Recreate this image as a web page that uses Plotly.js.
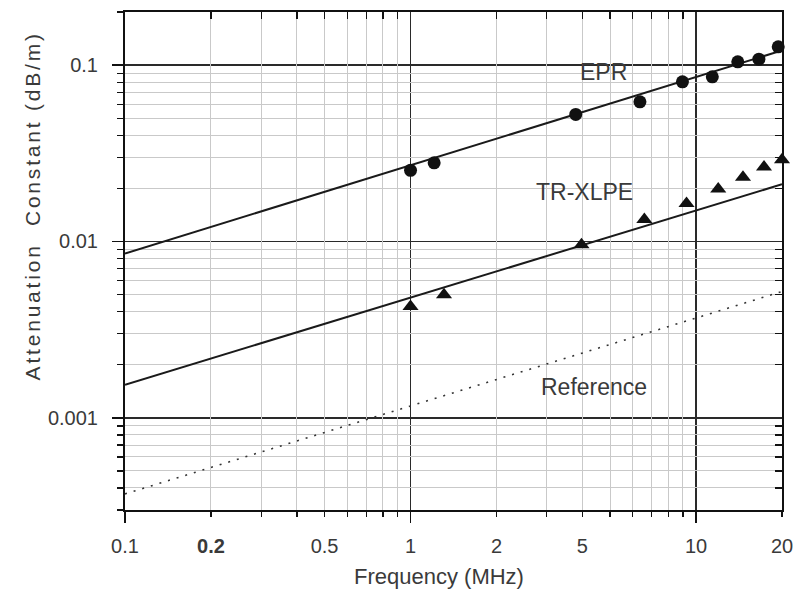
<!DOCTYPE html>
<html>
<head>
<meta charset="utf-8">
<script src="https://cdn.plot.ly/plotly-3.0.1.min.js"></script>
<style>
html,body{margin:0;padding:0;background:#fff;}
#chart{width:800px;height:594px;}
g.annotation[data-index="3"] text{letter-spacing:2.8px;}
</style>
</head>
<body>
<div id="chart"></div>
<script>
// ---- data ----
const eprFreq   = [1.0, 1.21, 3.79, 6.36, 8.96, 11.4, 14.0, 16.6, 19.4];
const eprAtten  = [0.0253, 0.0279, 0.0525, 0.0619, 0.0804, 0.0858, 0.1044, 0.108, 0.127];
const xlpeFreq  = [1.0, 1.31, 3.97, 6.59, 9.26, 11.96, 14.6, 17.3, 20.0];
const xlpeAtten = [0.00427, 0.00498, 0.00958, 0.0133, 0.0164, 0.0198, 0.0231, 0.0264, 0.0291];
const fitFreq   = [0.1, 20];
const eprFit    = [0.00855, 0.121];
const xlpeFit   = [0.00154, 0.0211];
const refFit    = [0.00037, 0.0052];

const xMajor = [0.1, 1, 10];
const xMinor = [0.2,0.3,0.4,0.5,0.6,0.7,0.8,0.9,2,3,4,5,6,7,8,9,20];
const xLabelVals = [0.1, 0.2, 0.5, 1, 2, 4, 10, 20];
const xLabelText = ['0.1', '<b>0.2</b>', '0.5', '1', '2', '5', '10', '20'];
const yMajor = [0.001, 0.01, 0.1];
const yMajorText = ['0.001', '0.01', '0.1'];
const yMinor = [0.0003,0.0004,0.0005,0.0006,0.0007,0.0008,0.0009,
                0.002,0.003,0.004,0.005,0.006,0.007,0.008,0.009,
                0.02,0.03,0.04,0.05,0.06,0.07,0.08,0.09,0.2];
const seriesLabels = ['EPR', 'TR-XLPE', 'Reference'];
const labelFreq    = [4.74, 4.07, 4.38];
const labelAtten   = [0.0913, 0.019, 0.0015];
const xTitle = 'Frequency (MHz)';
const yTitle = 'Attenuation\u00a0 Constant (dB/m)';

const FONT = 'Liberation Sans, Arial, Helvetica, sans-serif';
const TXT = '#3a3a3a';
const INK = '#111';
const xr = [-1, Math.log10(20)];
const yr = [Math.log10(0.0003), Math.log10(0.2)];

const traces = [
  {x: fitFreq, y: eprFit, mode: 'lines', line: {color: '#1a1a1a', width: 2}},
  {x: fitFreq, y: xlpeFit, mode: 'lines', line: {color: '#1a1a1a', width: 2}},
  {x: fitFreq, y: refFit, mode: 'lines', line: {color: '#333', width: 1.6, dash: '2px,7px'}},
  {x: eprFreq, y: eprAtten, mode: 'markers', marker: {symbol: 'circle', size: 13, color: INK}, cliponaxis: false},
  {x: xlpeFreq, y: xlpeAtten, mode: 'markers', marker: {symbol: 'triangle-up', size: 14, color: INK}, cliponaxis: false},
  {x: [], y: [], xaxis: 'x2', yaxis: 'y', mode: 'markers'},
  {x: [], y: [], xaxis: 'x3', yaxis: 'y', mode: 'markers'},
  {x: [], y: [], xaxis: 'x4', yaxis: 'y', mode: 'markers'},
  {x: [], y: [], xaxis: 'x', yaxis: 'y2', mode: 'markers'},
  {x: [], y: [], xaxis: 'x', yaxis: 'y3', mode: 'markers'}
];

const hidden = {showticklabels: false, showgrid: false, zeroline: false, showline: false};

const layout = {
  width: 800, height: 594,
  margin: {l: 125, r: 18, t: 12, b: 84},
  paper_bgcolor: '#fff', plot_bgcolor: '#fff',
  showlegend: false,
  font: {family: FONT, color: TXT},
  // bottom axis: major (dark) grid + long ticks
  xaxis: {
    type: 'log', range: xr, tickmode: 'array', tickvals: xMajor,
    showticklabels: false, ticks: 'outside', ticklen: 11, tickwidth: 1.5, tickcolor: INK,
    showgrid: true, gridcolor: '#2a2a2a', gridwidth: 1.5,
    showline: true, linecolor: INK, linewidth: 2, zeroline: false
  },
  // bottom axis labels
  xaxis2: Object.assign({}, hidden, {
    type: 'log', range: xr, overlaying: 'x', anchor: 'y', side: 'bottom',
    tickmode: 'array', tickvals: xLabelVals, ticktext: xLabelText, ticks: '',
    showticklabels: true, ticklabelstandoff: 22,
    tickfont: {family: FONT, size: 20, color: TXT}
  }),
  // top frame with inside minor ticks
  xaxis3: Object.assign({}, hidden, {
    type: 'log', range: xr, overlaying: 'x', anchor: 'y', side: 'top',
    tickmode: 'array', tickvals: xMinor, ticks: 'inside', ticklen: 7, tickwidth: 1.3, tickcolor: INK,
    showline: true, linecolor: INK, linewidth: 2
  }),
  // bottom minor ticks + light grid
  xaxis4: Object.assign({}, hidden, {
    type: 'log', range: xr, overlaying: 'x', anchor: 'y', side: 'bottom',
    tickmode: 'array', tickvals: xMinor, ticks: 'outside', ticklen: 6, tickwidth: 1.3, tickcolor: INK,
    showgrid: true, gridcolor: '#c9c9c9', gridwidth: 1
  }),
  yaxis: {
    type: 'log', range: yr, tickmode: 'array', tickvals: yMajor, ticktext: yMajorText,
    ticks: 'outside', ticklen: 11, tickwidth: 1.5, tickcolor: INK,
    ticklabelstandoff: 10,
    tickfont: {family: FONT, size: 20, color: TXT},
    showgrid: true, gridcolor: '#2a2a2a', gridwidth: 1.5,
    showline: true, linecolor: INK, linewidth: 2, zeroline: false
  },
  // right frame with inside minor ticks
  yaxis2: Object.assign({}, hidden, {
    type: 'log', range: yr, overlaying: 'y', anchor: 'x', side: 'right',
    tickmode: 'array', tickvals: yMinor, ticks: 'inside', ticklen: 7, tickwidth: 1.3, tickcolor: INK,
    showline: true, linecolor: INK, linewidth: 2
  }),
  // left minor ticks + light grid
  yaxis3: Object.assign({}, hidden, {
    type: 'log', range: yr, overlaying: 'y', anchor: 'x', side: 'left',
    tickmode: 'array', tickvals: yMinor, ticks: 'outside', ticklen: 7, tickwidth: 1.3, tickcolor: INK,
    showgrid: true, gridcolor: '#c9c9c9', gridwidth: 1
  }),
  annotations: seriesLabels.map((t, i) => ({
    x: Math.log10(labelFreq[i]), y: Math.log10(labelAtten[i]), xref: 'x', yref: 'y',
    text: t, showarrow: false, font: {family: FONT, size: 23, color: TXT},
    xanchor: 'center', yanchor: 'middle'
  })).concat([
    {text: yTitle, xref: 'paper', yref: 'paper', x: -0.1416, y: 0.612, textangle: -90,
     showarrow: false, xanchor: 'center', yanchor: 'middle',
     font: {family: FONT, size: 21, color: TXT}},
    {text: xTitle, xref: 'paper', yref: 'paper', x: 0.478, y: -0.1345,
     showarrow: false, xanchor: 'center', yanchor: 'middle',
     font: {family: FONT, size: 22, color: TXT}}
  ])
};

Plotly.newPlot('chart', traces, layout, {staticPlot: true});
</script>
</body>
</html>
